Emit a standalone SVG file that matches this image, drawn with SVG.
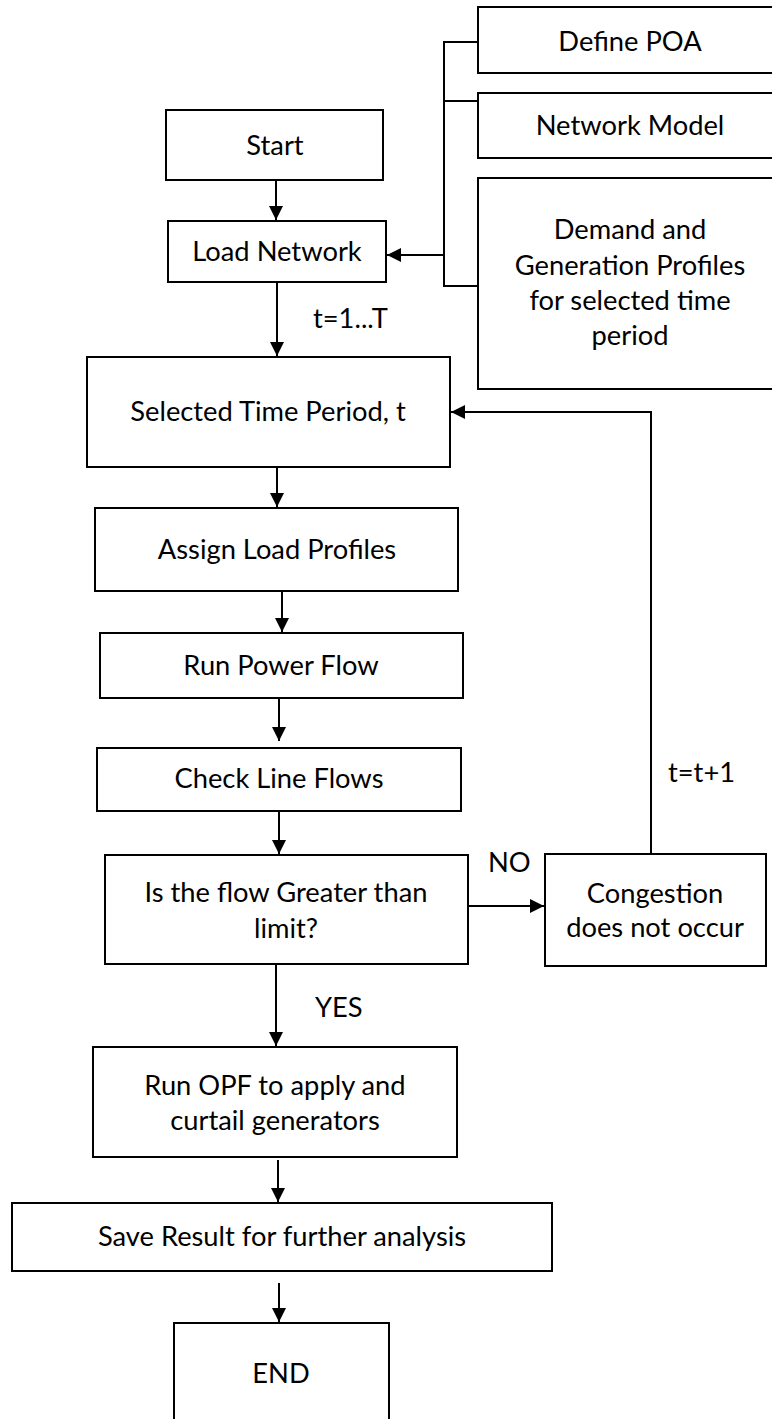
<svg xmlns="http://www.w3.org/2000/svg" width="772" height="1419" viewBox="0 0 772 1419">
<style>
.box{fill:#fff;stroke:#000;stroke-width:2}
.t{font-family:Lato,"Liberation Sans",sans-serif;font-size:27.3px;fill:#000;text-anchor:middle}
.lbl{font-family:Lato,"Liberation Sans",sans-serif;font-size:27.3px;fill:#000}
.c{fill:none;stroke:#000;stroke-width:2}
</style>
<defs>
<marker id="ah" markerUnits="userSpaceOnUse" markerWidth="16" markerHeight="16" viewBox="0 0 16 16" refX="14" refY="8" orient="auto">
<path d="M0,1 L14,8 L0,15 Z" fill="#000"/>
</marker>
</defs>
<rect width="772" height="1419" fill="#fff"/>

<g id="connectors">
<path class="c" d="M276,180 V220" marker-end="url(#ah)"/>
<path class="c" d="M277,282 V356" marker-end="url(#ah)"/>
<path class="c" d="M478,42 H444 V286 H478 M444,101 H478"/>
<path class="c" d="M444,255 H387" marker-end="url(#ah)"/>
<path class="c" d="M277,467 V507" marker-end="url(#ah)"/>
<path class="c" d="M282,591 V632" marker-end="url(#ah)"/>
<path class="c" d="M279,698 V741" marker-end="url(#ah)"/>
<path class="c" d="M279,811 V854" marker-end="url(#ah)"/>
<path class="c" d="M468,906 H544" marker-end="url(#ah)"/>
<path class="c" d="M651,854 V412 H451" marker-end="url(#ah)"/>
<path class="c" d="M276,964 V1046" marker-end="url(#ah)"/>
<path class="c" d="M278,1160 V1202" marker-end="url(#ah)"/>
<path class="c" d="M279,1283 V1322" marker-end="url(#ah)"/>
<text class="lbl" x="313" y="328">t=1...T</text>
<text class="lbl" x="668" y="782">t=t+1</text>
<text class="lbl" x="488" y="872">NO</text>
<text class="lbl" x="315" y="1017">YES</text>
</g>

<g id="define-poa">
<rect class="box" x="478" y="7" width="310" height="66"/>
<text class="t" x="630" y="51">Define POA</text>
</g>
<g id="network-model">
<rect class="box" x="478" y="93" width="310" height="65"/>
<text class="t" x="630" y="135">Network Model</text>
</g>
<g id="demand-generation">
<rect class="box" x="478" y="178" width="310" height="211"/>
<text class="t" x="630" y="239">Demand and</text>
<text class="t" x="630" y="275">Generation Profiles</text>
<text class="t" x="630" y="310">for selected time</text>
<text class="t" x="630" y="345">period</text>
</g>
<g id="start">
<rect class="box" x="166" y="110" width="217" height="70"/>
<text class="t" x="275" y="155">Start</text>
</g>
<g id="load-network">
<rect class="box" x="168" y="221" width="218" height="61"/>
<text class="t" x="277" y="261">Load Network</text>
</g>
<g id="selected-time-period">
<rect class="box" x="87" y="357" width="363" height="110"/>
<text class="t" x="268" y="421">Selected Time Period, t</text>
</g>
<g id="assign-load-profiles">
<rect class="box" x="95" y="508" width="363" height="83"/>
<text class="t" x="277" y="559">Assign Load Profiles</text>
</g>
<g id="run-power-flow">
<rect class="box" x="100" y="633" width="363" height="65"/>
<text class="t" x="281" y="675">Run Power Flow</text>
</g>
<g id="check-line-flows">
<rect class="box" x="97" y="748" width="364" height="63"/>
<text class="t" x="279" y="788">Check Line Flows</text>
</g>
<g id="is-flow-greater">
<rect class="box" x="105" y="855" width="363" height="109"/>
<text class="t" x="286" y="902">Is the flow Greater than</text>
<text class="t" x="286" y="938">limit?</text>
</g>
<g id="congestion">
<rect class="box" x="545" y="854" width="221" height="112"/>
<text class="t" x="655" y="903">Congestion</text>
<text class="t" x="655" y="937">does not occur</text>
</g>
<g id="run-opf">
<rect class="box" x="93" y="1047" width="364" height="110"/>
<text class="t" x="275" y="1095">Run OPF to apply and</text>
<text class="t" x="275" y="1130">curtail generators</text>
</g>
<g id="save-result">
<rect class="box" x="12" y="1203" width="540" height="68"/>
<text class="t" x="282" y="1246">Save Result for further analysis</text>
</g>
<g id="end">
<rect class="box" x="174" y="1323" width="215" height="110"/>
<text class="t" x="281" y="1383">END</text>
</g>
</svg>
